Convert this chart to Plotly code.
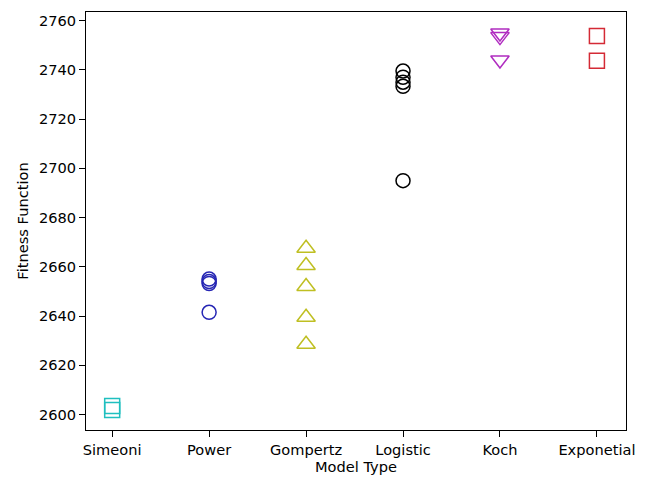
import plotly.graph_objects as go

categories = ["Simeoni", "Power", "Gompertz", "Logistic", "Koch", "Exponetial"]
simeoni = [2603.4, 2601.8]
power = [2655.0, 2654.0, 2653.2, 2641.5]
gompertz = [2667.5, 2660.5, 2652.0, 2639.5, 2628.5]
logistic = [2739.5, 2737.0, 2735.0, 2733.3, 2695.0]
koch = [2755.0, 2753.5, 2744.0]
exponetial = [2753.8, 2743.7]

series = [
    (simeoni, "square-open", "#1fbfbf", 15),
    (power, "circle-open", "#2626b4", 14),
    (gompertz, "triangle-up-open", "#bfbf22", 16),
    (logistic, "circle-open", "#000000", 14),
    (koch, "triangle-down-open", "#b02cc0", 16),
    (exponetial, "square-open", "#d42a35", 15),
]

fig = go.Figure()
for i, (vals, sym, col, sz) in enumerate(series):
    fig.add_trace(go.Scatter(
        x=[i] * len(vals), y=vals, mode="markers",
        marker=dict(symbol=sym, size=sz, color=col, line=dict(color=col, width=1.5)),
        showlegend=False, name=categories[i],
    ))

fig.update_layout(
    width=646, height=480,
    margin=dict(l=86, r=19, t=11, b=48),
    paper_bgcolor="white", plot_bgcolor="white",
    font=dict(family="DejaVu Sans", size=14.6, color="black"),
)
fig.update_xaxes(
    range=[-0.27, 5.3], tickmode="array", tickvals=list(range(6)), ticktext=categories,
    showgrid=False, zeroline=False, showline=True, linecolor="black", linewidth=1, mirror=True,
    ticks="outside", ticklen=6, tickcolor="black",
    title=dict(text="Model Type", standoff=1, font=dict(size=14.6)),
)
fig.update_yaxes(
    range=[2593.7, 2763.5], tickmode="array", tickvals=list(range(2600, 2761, 20)),
    showgrid=False, zeroline=False, showline=True, linecolor="black", linewidth=1, mirror=True,
    ticks="outside", ticklen=6, tickcolor="black",
    title=dict(text="Fitness Function", standoff=6, font=dict(size=14.6)),
)

fig.write_html("out.html")
